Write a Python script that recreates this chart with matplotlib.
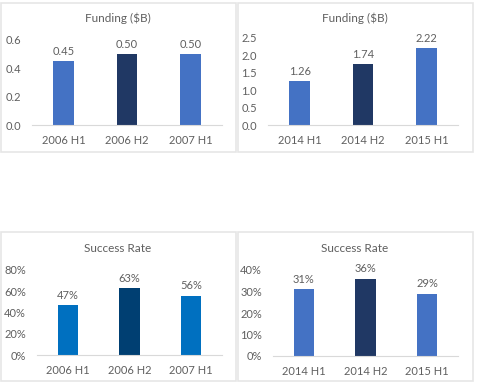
import matplotlib.pyplot as plt
from matplotlib.patches import Rectangle
from matplotlib.ticker import PercentFormatter

plt.rcParams['font.family'] = ['Lato', 'DejaVu Sans']

# data
cats_old = ["2006 H1", "2006 H2", "2007 H1"]
cats_new = ["2014 H1", "2014 H2", "2015 H1"]
funding_old = [0.45, 0.50, 0.50]
funding_new = [1.26, 1.74, 2.22]
success_old = [47, 63, 56]
success_new = [31, 36, 29]

W, H = 480, 382
fig = plt.figure(figsize=(W / 100, H / 100), dpi=100)
grey = "#5F5F5F"


def px_axes(x0, x1, ybot, ytop):
    return fig.add_axes([x0 / W, 1 - ybot / H, (x1 - x0) / W, (ybot - ytop) / H])


def panel(rect, title, title_xy, ax_box, cats, vals, colors, ymax, ystep, fmt, pct=False):
    bx0, by0, bx1, by1 = rect
    fig.patches.append(Rectangle((bx0 / W, 1 - by1 / H), (bx1 - bx0) / W, (by1 - by0) / H,
                                 transform=fig.transFigure, fill=False,
                                 edgecolor="#E6E6E6", linewidth=1.2))
    fig.text(title_xy[0] / W, 1 - title_xy[1] / H, title, ha="center", va="center",
             fontsize=8.5, color=grey)
    ax = px_axes(*ax_box)
    x = range(len(cats))
    ax.bar(x, vals, width=0.33, color=colors)
    for xi, v in zip(x, vals):
        ax.annotate(fmt(v), (xi, v), xytext=(0, 3), textcoords="offset points",
                    ha="center", va="bottom", fontsize=8, color=grey,
                    annotation_clip=False)
    ax.set_xlim(-0.5, len(cats) - 0.5)
    ax.set_ylim(0, ymax)
    ticks = [i * ystep for i in range(int(round(ymax / ystep)) + 1)]
    ax.set_yticks(ticks)
    if pct:
        ax.yaxis.set_major_formatter(PercentFormatter(decimals=0))
    else:
        ax.set_yticklabels([f"{t:.1f}" for t in ticks])
    ax.set_xticks(list(x))
    ax.set_xticklabels(cats)
    for s in ["top", "right", "left"]:
        ax.spines[s].set_visible(False)
    ax.spines["bottom"].set_color("#D9D9D9")
    ax.tick_params(axis="both", length=0, labelsize=8, labelcolor=grey)
    ax.tick_params(axis="y", pad=8)
    ax.tick_params(axis="x", pad=7)
    ax.patch.set_alpha(0)
    return ax


blue, navy = "#4472C4", "#203864"
blue2, navy2 = "#0070C0", "#003F72"

panel((1, 3, 236, 152), "Funding ($B)", (118, 18), (32, 222, 125, 40),
      cats_old, funding_old, [blue, navy, blue], 0.6, 0.2, lambda v: f"{v:.2f}")
panel((238, 3, 473, 152), "Funding ($B)", (355, 18), (268, 458, 125, 38),
      cats_new, funding_new, [blue, navy, blue], 2.5, 0.5, lambda v: f"{v:.2f}")
panel((1, 232, 236, 381), "Success Rate", (118, 249), (37, 222, 355, 270),
      cats_old, success_old, [blue2, navy2, blue2], 80, 20, lambda v: f"{v}%", pct=True)
panel((238, 232, 473, 381), "Success Rate", (355, 249), (273, 458, 356, 270),
      cats_new, success_new, [blue, navy, blue], 40, 10, lambda v: f"{v}%", pct=True)

fig.savefig("out.png", dpi=100)
